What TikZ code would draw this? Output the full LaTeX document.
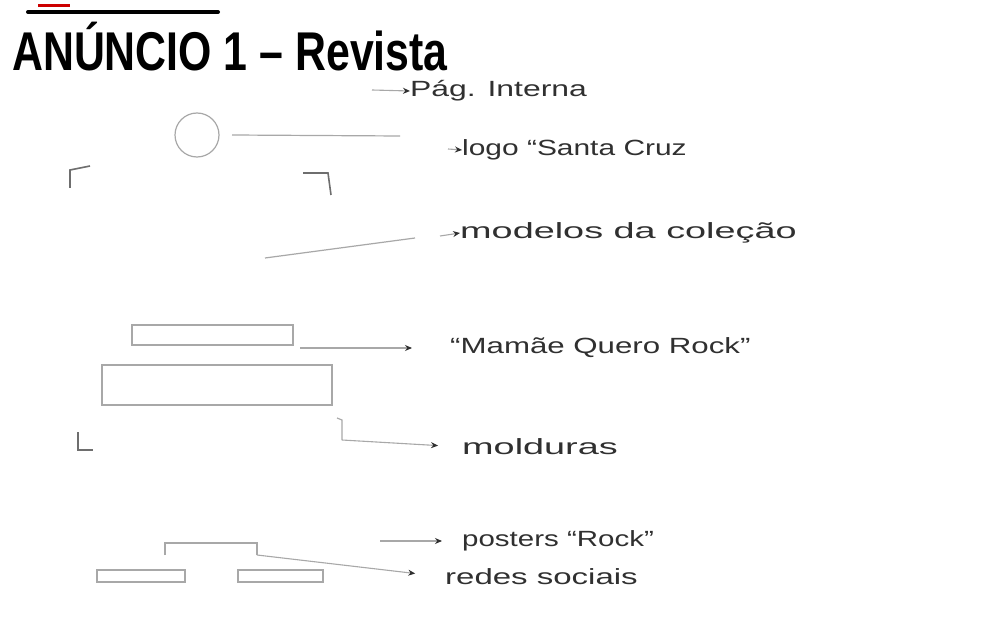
\documentclass[tikz,border=0pt]{standalone}
\usepackage{fontspec}
\setmainfont{Liberation Sans}
\usetikzlibrary{arrows.meta}
\definecolor{sketch}{HTML}{A8A8A8}
\definecolor{ink}{HTML}{303030}
\newcommand\widetxt[2]{\scalebox{#1}[1]{#2}}
\begin{document}
\begin{tikzpicture}[x=1pt,y=-1pt,
  sk/.style={draw=sketch,line width=1.2pt},
  lead/.style={draw=sketch,line width=1.1pt,-{Stealth[length=7pt,width=6pt,fill=ink,color=ink]}},
  lbl/.style={anchor=west,inner sep=0pt,text=ink,font=\fontsize{22}{24}\selectfont},
  cropmark/.style={draw=ink!70,line width=1.6pt}]
\useasboundingbox[fill=white] (0,0) rectangle (998,636);
% title
\draw[red!80!black,line width=3pt] (38,6) -- (70,6);
\draw[black,line width=4pt,line cap=round] (28,12) -- (218,12);
\node[anchor=west,inner sep=0pt,font=\fontsize{42}{46}\bfseries\selectfont] (title) at (12,47) {\scalebox{1.02}[1.3]{ANÚNCIO 1 – Revista}};
% labels
\node[lbl] (pag) at (410,91) {\widetxt{1.45}{Pág. Interna}};
\node[lbl] (logo) at (462,150) {\widetxt{1.36}{logo “Santa Cruz}};
\node[lbl] (mod) at (460,233) {\widetxt{1.72}{modelos da coleção}};
\node[lbl] (mam) at (450,348) {\widetxt{1.42}{“Mamãe Quero Rock”}};
\node[lbl] (mol) at (462,447) {\widetxt{1.72}{molduras}};
\node[lbl] (pos) at (462,541) {\widetxt{1.34}{posters “Rock”}};
\node[lbl] (red) at (445,577) {\widetxt{1.5}{redes sociais}};
% layout sketch
\node[circle,draw=sketch,line width=1.2pt,minimum size=44pt,inner sep=0pt] (circ) at (197,135) {};
\draw[cropmark] (70,188) -- (70,170) -- (90,166);
\draw[cropmark] (303,173) -- (328,173) -- (331,195);
\draw[cropmark] (78,432) -- (78,450) -- (93,450);
\node[draw=sketch,line width=1.2pt,minimum width=161pt,minimum height=20pt,inner sep=0pt] (r1) at (212.5,335) {};
\node[draw=sketch,line width=1.2pt,minimum width=230pt,minimum height=40pt,inner sep=0pt] (r2) at (217,385) {};
\node[draw=sketch,line width=1.2pt,minimum width=88pt,minimum height=12pt,inner sep=0pt] (r3) at (141,576) {};
\node[draw=sketch,line width=1.2pt,minimum width=85pt,minimum height=12pt,inner sep=0pt] (r4) at (280.5,576) {};
\draw[sk] (165,555) -- (165,543) -- (257,543) -- (257,555);
\coordinate (br) at (257,555);
% leaders
\coordinate (a0) at (372,90);
\draw[lead] (a0) -- (pag.west);
\coordinate (a1) at (232,135);
\draw[sk] (a1) -- (400,136);
\coordinate (a1b) at (448,149);
\draw[lead] (a1b) -- (logo.west);
\coordinate (a2) at (265,258);
\draw[sk] (a2) -- (415,238);
\coordinate (a2b) at (440,236);
\draw[lead] (a2b) -- (mod.west);
\coordinate (a3) at (300,348);
\draw[lead,shorten >=38pt] (a3) -- (mam.west);
\draw[sk] (337,418) -- (342,420) -- (342,440);
\coordinate (a4) at (342,440);
\draw[lead,shorten >=24pt] (a4) -- (mol.west);
\coordinate (a5) at (380,541);
\draw[lead,shorten >=20pt] (a5) -- (pos.west);
\draw[lead,shorten >=30pt] (br) -- (red.west);
\end{tikzpicture}
\end{document}
